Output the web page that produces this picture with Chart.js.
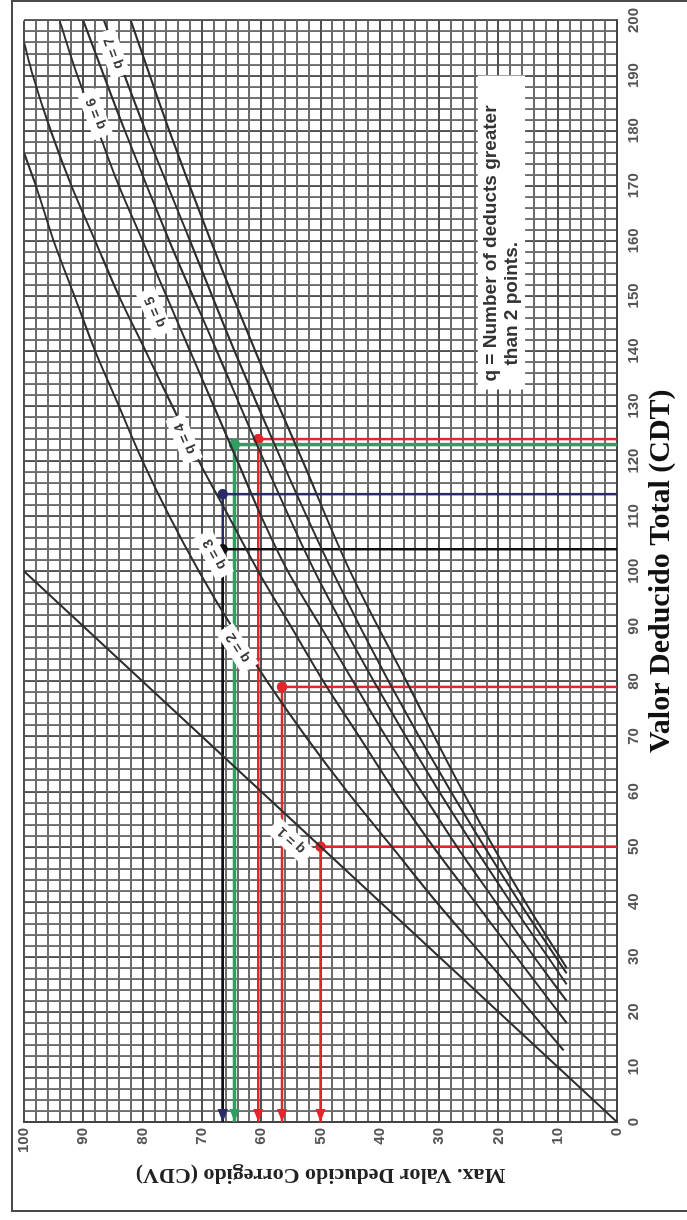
<!DOCTYPE html>
<html>
<head>
<meta charset="utf-8">
<title>Valor Deducido Corregido</title>
<script src="https://cdn.jsdelivr.net/npm/chart.js@4.4.1/dist/chart.umd.min.js"></script>
<style>
  html, body { margin: 0; padding: 0; background: #fff; width: 687px; height: 1220px; overflow: hidden; }
  #frame { position: absolute; left: 11px; top: 0; width: 700px; height: 1212px; border: 2px solid #4a4a4a; box-sizing: border-box; }
  /* the chart is drawn landscape and turned a quarter turn to the left */
  #wrap { position: absolute; left: 0; top: 0; width: 1220px; height: 687px; transform-origin: 0 0; transform: translate(0, 1220px) rotate(-90deg); }
</style>
</head>
<body>
<div id="frame"></div>
<div id="wrap"><canvas id="chart" width="1220" height="687"></canvas></div>
<script>
// CDT (x) -> CDV (y) curves, one per q
const q1CDT = [0, 100];
const q1CDV = [0, 100];
const q2CDT = [13, 20, 30, 40, 50, 60, 70, 80, 90, 100, 110, 120, 130, 140, 150, 160, 170, 176];
const q2CDV = [9, 14.5, 22.5, 30.5, 38, 45.5, 52.5, 59, 65, 70.5, 75.5, 80, 84, 88, 91.5, 95, 98, 100];
const q3CDT = [18, 30, 40, 50, 60, 70, 80, 90, 100, 110, 120, 130, 140, 150, 160, 170, 180, 190, 196];
const q3CDV = [8.5, 17, 24, 31, 37.5, 43.5, 49.5, 55, 60.5, 65.5, 70.5, 75, 79.5, 84, 88, 92, 95.5, 98.5, 100];
const q4CDT = [22, 30, 40, 50, 60, 70, 80, 90, 100, 110, 120, 130, 140, 150, 160, 170, 180, 190, 200];
const q4CDV = [8.5, 14, 20.5, 27, 33, 39, 44.5, 50, 55.5, 60, 64, 68, 72, 76, 80, 84, 87.5, 91, 94];
const q5CDT = [25, 40, 60, 80, 100, 120, 140, 160, 180, 200];
const q5CDV = [8.5, 18, 30, 41, 51, 59.5, 67.5, 75.5, 83, 90];
const q6CDT = [27, 40, 60, 80, 100, 120, 140, 160, 180, 200];
const q6CDV = [8.5, 16.5, 28, 38.5, 48, 56.5, 64.5, 72, 79.5, 86.5];
const q7CDT = [28, 40, 60, 80, 100, 120, 140, 160, 180, 200];
const q7CDV = [8.5, 15.5, 26, 35.5, 45, 53, 61, 68.5, 75.5, 82];

// curve labels
const labelText = ['q = 1', 'q = 2', 'q = 3', 'q = 4', 'q = 5', 'q = 6', 'q = 7'];
const labelCDT = [51, 86, 103, 124, 147, 183, 194];
const labelCDV = [55, 64, 68, 73, 78, 88, 85];

// worked readings: CDT in, CDV out
const guideCDT = [50, 79, 104, 114, 123, 124];
const guideCDV = [50, 56.5, 66.5, 66.5, 64.5, 60.5];
const guideColor = ['#e3262b', '#e3262b', '#111111', '#2a2c66', '#2f9e63', '#e3262b'];

// note box
const noteLines = ['q = Number of deducts greater', 'than 2 points.'];
const noteCDT = [133, 190];
const noteCDV = [15.5, 23.5];

const toPts = (xs, ys) => xs.map((x, i) => ({ x: x, y: ys[i] }));

const curves = [[q1CDT, q1CDV], [q2CDT, q2CDV], [q3CDT, q3CDV], [q4CDT, q4CDV], [q5CDT, q5CDV], [q6CDT, q6CDV], [q7CDT, q7CDV]];

const datasets = curves.map((c, i) => ({
  label: labelText[i],
  data: toPts(c[0], c[1]),
  borderColor: '#2e2e2e',
  borderWidth: 2,
  pointRadius: 0,
  showLine: true,
  cubicInterpolationMode: 'monotone'
}));

guideCDT.forEach((cdt, i) => {
  datasets.push({
    label: 'guide' + i,
    data: [{ x: cdt, y: 0 }, { x: cdt, y: guideCDV[i] }, { x: 0, y: guideCDV[i] }],
    borderColor: guideColor[i],
    backgroundColor: guideColor[i],
    borderWidth: i === 4 ? 3.5 : 2.5,
    pointRadius: [0, 4, 0],
    showLine: true,
    tension: 0
  });
});

const extras = {
  id: 'extras',
  afterDatasetsDraw(chart) {
    const { ctx } = chart;
    const xs = chart.scales.x, ys = chart.scales.y;
    ctx.save();

    // arrow heads at the CDV axis
    guideCDV.forEach((v, i) => {
      const px = xs.getPixelForValue(0), py = ys.getPixelForValue(v);
      ctx.fillStyle = guideColor[i === 2 ? 3 : i];
      ctx.beginPath();
      ctx.moveTo(px, py);
      ctx.lineTo(px + 13, py - 5);
      ctx.lineTo(px + 13, py + 5);
      ctx.closePath();
      ctx.fill();
    });

    // q labels along the curves
    ctx.font = 'bold 14px Arial';
    ctx.textAlign = 'center';
    ctx.textBaseline = 'middle';
    labelText.forEach((t, i) => {
      const px = xs.getPixelForValue(labelCDT[i]), py = ys.getPixelForValue(labelCDV[i]);
      const c = curves[i];
      const n = c[0].length;
      let k = c[0].findIndex(v => v >= labelCDT[i]);
      if (k < 1) k = 1;
      if (k > n - 1) k = n - 1;
      const dx = xs.getPixelForValue(c[0][k]) - xs.getPixelForValue(c[0][k - 1]);
      const dy = ys.getPixelForValue(c[1][k]) - ys.getPixelForValue(c[1][k - 1]);
      ctx.save();
      ctx.translate(px, py);
      ctx.rotate(Math.atan2(dy, dx));
      ctx.fillStyle = '#ffffff';
      ctx.fillRect(-24, -10, 48, 20);
      ctx.fillStyle = '#3a3a3a';
      ctx.fillText(t, 0, 1);
      ctx.restore();
    });

    // note box
    const bx0 = xs.getPixelForValue(noteCDT[0]), bx1 = xs.getPixelForValue(noteCDT[1]);
    const by0 = ys.getPixelForValue(noteCDV[1]), by1 = ys.getPixelForValue(noteCDV[0]);
    ctx.fillStyle = '#ffffff';
    ctx.fillRect(bx0, by0, bx1 - bx0, by1 - by0);
    ctx.fillStyle = '#333333';
    ctx.font = 'bold 19px Arial';
    ctx.textAlign = 'left';
    ctx.textBaseline = 'middle';
    ctx.fillText(noteLines[0], bx0 + 8, by0 + 13);
    ctx.fillText(noteLines[1], bx0 + 24, by0 + 34);
    ctx.restore();
  }
};

const gridColor = (c) => (c.tick && c.tick.value % 10 === 0) ? '#505050' : '#6c6c6c';

new Chart(document.getElementById('chart'), {
  type: 'scatter',
  data: { datasets: datasets },
  options: {
    responsive: false,
    animation: false,
    devicePixelRatio: 1,
    layout: { padding: { left: 0, right: 14, top: 24, bottom: 0 } },
    plugins: { legend: { display: false }, tooltip: { enabled: false } },
    scales: {
      x: {
        type: 'linear',
        min: 0,
        max: 200,
        afterFit: (s) => { s.height = 70; },
        border: { color: '#444444', width: 2 },
        grid: { color: gridColor, lineWidth: 1.9, drawTicks: false },
        ticks: {
          stepSize: 2,
          autoSkip: false,
          maxRotation: 0,
          padding: 8,
          color: '#555555',
          font: { family: 'Arial', size: 15, weight: 'bold' },
          callback: (v) => (v % 10 === 0 ? v : '')
        },
        title: {
          display: true,
          text: 'Valor Deducido Total (CDT)',
          color: '#111111',
          font: { family: 'Liberation Serif', size: 30, weight: 'bold' },
          padding: { top: 0, bottom: 8 }
        }
      },
      y: {
        type: 'linear',
        min: 0,
        max: 100,
        afterFit: (s) => { s.width = 98; },
        border: { color: '#444444', width: 2 },
        grid: { color: gridColor, lineWidth: 1.9, drawTicks: false },
        ticks: {
          stepSize: 2,
          autoSkip: false,
          padding: 6,
          color: '#555555',
          font: { family: 'Arial', size: 15, weight: 'bold' },
          callback: (v) => (v % 10 === 0 ? v : '')
        },
        title: {
          display: true,
          text: 'Max. Valor Deducido Corregido (CDV)',
          color: '#222222',
          font: { family: 'Liberation Serif', size: 22, weight: 'bold' },
          padding: { top: 32, bottom: 0 }
        }
      }
    }
  },
  plugins: [extras]
});
</script>
</body>
</html>
